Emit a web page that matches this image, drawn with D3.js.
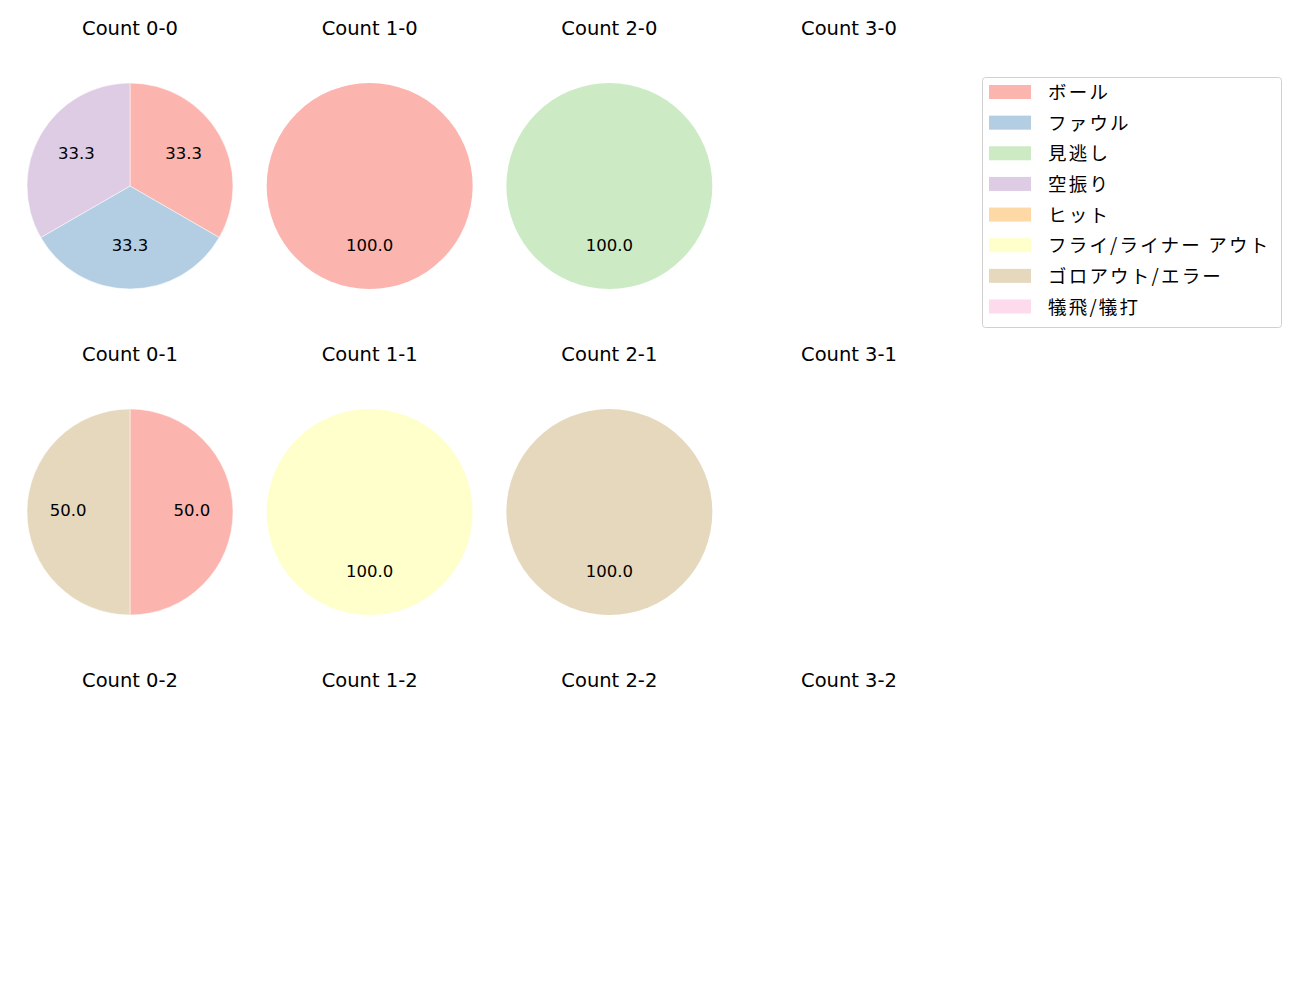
<!DOCTYPE html>
<head>
<meta charset="utf-8">
<style>
  body { margin: 0; background: #fff; }
  text { font-family: "DejaVu Sans", "Noto Sans CJK JP", sans-serif; fill: #000; }
  .legend text { font-family: "Noto Sans CJK JP", sans-serif; }
</style>
</head>
<body>
<div id="chart"></div>
<script src="https://cdnjs.cloudflare.com/ajax/libs/d3/7.8.5/d3.min.js"></script>
<script>
var categories = ['ボール', 'ファウル', '見逃し', '空振り', 'ヒット', 'フライ/ライナー アウト', 'ゴロアウト/エラー', '犠飛/犠打'];
var colors = ['#fbb4ae', '#b3cde3', '#ccebc5', '#decbe4', '#fed9a6', '#ffffcc', '#e5d8bd', '#fddaec'];

var counts = ['0-0', '1-0', '2-0', '3-0',
              '0-1', '1-1', '2-1', '3-1',
              '0-2', '1-2', '2-2', '3-2'];

// pitch results per count, in category order
var values = [
  [1, 1, 0, 1, 0, 0, 0, 0],  // 0-0
  [1, 0, 0, 0, 0, 0, 0, 0],  // 1-0
  [0, 0, 1, 0, 0, 0, 0, 0],  // 2-0
  [0, 0, 0, 0, 0, 0, 0, 0],  // 3-0
  [1, 0, 0, 0, 0, 0, 1, 0],  // 0-1
  [0, 0, 0, 0, 0, 1, 0, 0],  // 1-1
  [0, 0, 0, 0, 0, 0, 1, 0],  // 2-1
  [0, 0, 0, 0, 0, 0, 0, 0],  // 3-1
  [0, 0, 0, 0, 0, 0, 0, 0],  // 0-2
  [0, 0, 0, 0, 0, 0, 0, 0],  // 1-2
  [0, 0, 0, 0, 0, 0, 0, 0],  // 2-2
  [0, 0, 0, 0, 0, 0, 0, 0]   // 3-2
];

var width = 1300, height = 1000;
var svg = d3.select('#chart').append('svg')
  .attr('width', width)
  .attr('height', height);

var colX = d3.scalePoint().domain([0, 1, 2, 3]).range([130, 849]);
var rowY = d3.scalePoint().domain([0, 1, 2]).range([186, 838]);
var radius = 103;

var color = d3.scaleOrdinal().domain(categories).range(colors);

var pie = d3.pie()
  .sort(null)
  .value(function(d) { return d.v; })
  .startAngle(0)
  .endAngle(2 * Math.PI);

var arc = d3.arc().innerRadius(0).outerRadius(radius);
var labelArc = d3.arc().innerRadius(radius * 0.6).outerRadius(radius * 0.6);

counts.forEach(function(c, i) {
  var col = i % 4, row = Math.floor(i / 4);
  var g = svg.append('g')
    .attr('transform', 'translate(' + colX(col) + ',' + rowY(row) + ')');

  g.append('text')
    .attr('x', 0)
    .attr('y', -158)
    .attr('text-anchor', 'middle')
    .attr('dominant-baseline', 'central')
    .style('font-size', '19.5px')
    .text('Count ' + c);

  var rows = categories.map(function(k, j) { return {k: k, v: values[i][j]}; });
  var total = d3.sum(rows, function(d) { return d.v; });
  if (!total) return;

  var arcs = pie(rows).filter(function(d) { return d.data.v > 0; });

  g.selectAll('path')
    .data(arcs).enter().append('path')
    .attr('d', arc)
    .attr('fill', function(d) { return color(d.data.k); })
    .attr('stroke', arcs.length > 1 ? '#fff' : 'none')
    .attr('stroke-width', 0.5);

  g.selectAll('text.pct')
    .data(arcs).enter().append('text')
    .attr('class', 'pct')
    .attr('transform', function(d) { return 'translate(' + labelArc.centroid(d) + ')'; })
    .attr('text-anchor', 'middle')
    .attr('dominant-baseline', 'central')
    .attr('dy', -2)
    .style('font-size', '16.5px')
    .text(function(d) { return (d.data.v / total * 100).toFixed(1); });
});

// legend
var legend = svg.append('g').attr('class', 'legend').attr('transform', 'translate(982,77)');
legend.append('rect')
  .attr('x', 0.5).attr('y', 0.5)
  .attr('width', 299).attr('height', 250)
  .attr('rx', 3)
  .attr('fill', '#fff')
  .attr('stroke', '#d0d0d0');

var ly = d3.scalePoint().domain(categories).range([15, 229.5]);
var item = legend.selectAll('g.item')
  .data(categories).enter().append('g')
  .attr('class', 'item')
  .attr('transform', function(d) { return 'translate(0,' + ly(d) + ')'; });

item.append('rect')
  .attr('x', 7).attr('y', -7)
  .attr('width', 42).attr('height', 14)
  .attr('fill', function(d) { return color(d); });

item.append('text')
  .attr('x', 66).attr('y', 0)
  .attr('dy', -1)
  .attr('dominant-baseline', 'central')
  .style('font-size', '18.5px')
  .style('letter-spacing', '2.2px')
  .text(function(d) { return d; });
</script>
</body>
</html>
